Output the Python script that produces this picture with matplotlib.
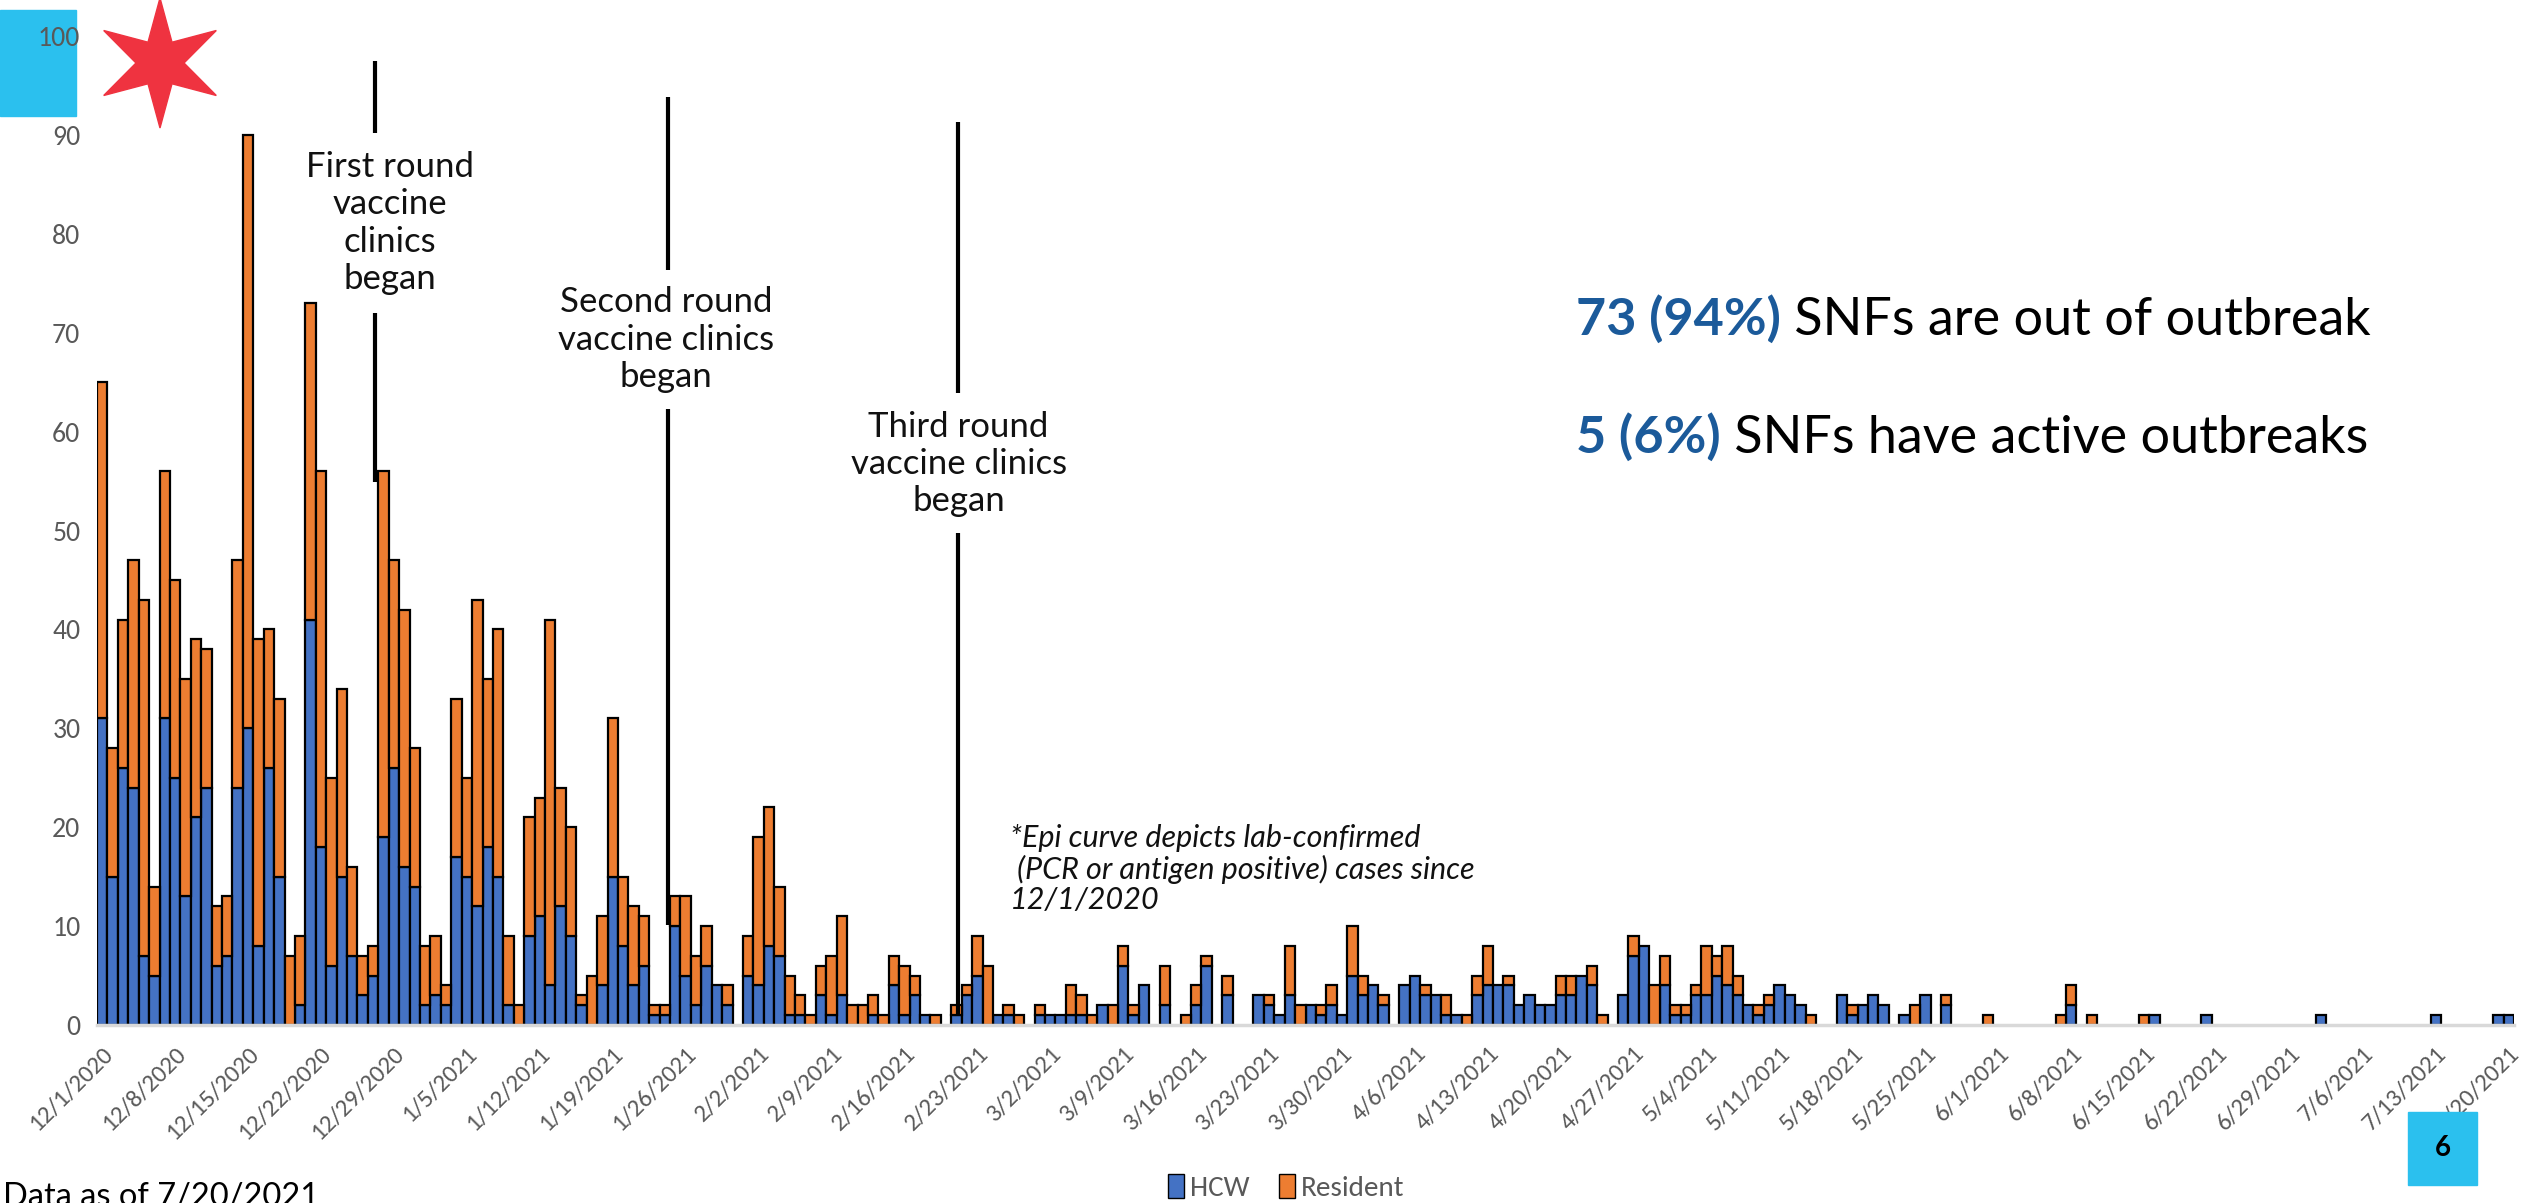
import matplotlib
matplotlib.use("Agg")
import matplotlib.pyplot as plt
from matplotlib.patches import Patch, Rectangle, Polygon
import numpy as np
import pandas as pd

# daily cases since 12/1/2020, one row per week
hcw = [
    31, 15, 26, 24, 7, 5, 31,
    25, 13, 21, 24, 6, 7, 24,
    30, 8, 26, 15, 0, 2, 41,
    18, 6, 15, 7, 3, 5, 19,
    26, 16, 14, 2, 3, 2, 17,
    15, 12, 18, 15, 2, 0, 9,
    11, 4, 12, 9, 2, 0, 4,
    15, 8, 4, 6, 1, 1, 10,
    5, 2, 6, 4, 2, 0, 5,
    4, 8, 7, 1, 1, 0, 3,
    1, 3, 0, 0, 1, 0, 4,
    1, 3, 1, 0, 0, 1, 3,
    5, 0, 1, 1, 0, 0, 1,
    1, 1, 1, 1, 0, 2, 0,
    6, 1, 4, 0, 2, 0, 0,
    2, 6, 0, 3, 0, 0, 3,
    2, 1, 3, 0, 2, 1, 2,
    1, 5, 3, 4, 2, 0, 4,
    5, 3, 3, 1, 1, 0, 3,
    4, 4, 4, 2, 3, 2, 2,
    3, 3, 5, 4, 0, 0, 3,
    7, 8, 0, 4, 1, 1, 3,
    3, 5, 4, 3, 2, 1, 2,
    4, 3, 2, 0, 0, 0, 3,
    1, 2, 3, 2, 0, 1, 0,
    3, 0, 2, 0, 0, 0, 0,
    0, 0, 0, 0, 0, 0, 0,
    2, 0, 0, 0, 0, 0, 0,
    0, 1, 0, 0, 0, 0, 1,
    0, 0, 0, 0, 0, 0, 0,
    0, 0, 0, 1, 0, 0, 0,
    0, 0, 0, 0, 0, 0, 0,
    1, 0, 0, 0, 0, 0, 1,
    1,
]
resident = [
    34, 13, 15, 23, 36, 9, 25,
    20, 22, 18, 14, 6, 6, 23,
    60, 31, 14, 18, 7, 7, 32,
    38, 19, 19, 9, 4, 3, 37,
    21, 26, 14, 6, 6, 2, 16,
    10, 31, 17, 25, 7, 2, 12,
    12, 37, 12, 11, 1, 5, 7,
    16, 7, 8, 5, 1, 1, 3,
    8, 5, 4, 0, 2, 0, 4,
    15, 14, 7, 4, 2, 1, 3,
    6, 8, 2, 2, 2, 1, 3,
    5, 2, 0, 1, 0, 1, 1,
    4, 6, 0, 1, 1, 0, 1,
    0, 0, 3, 2, 1, 0, 2,
    2, 1, 0, 0, 4, 0, 1,
    2, 1, 0, 2, 0, 0, 0,
    1, 0, 5, 2, 0, 1, 2,
    0, 5, 2, 0, 1, 0, 0,
    0, 1, 0, 2, 0, 1, 2,
    4, 0, 1, 0, 0, 0, 0,
    2, 2, 0, 2, 1, 0, 0,
    2, 0, 4, 3, 1, 1, 1,
    5, 2, 4, 2, 0, 1, 1,
    0, 0, 0, 1, 0, 0, 0,
    1, 0, 0, 0, 0, 0, 2,
    0, 0, 1, 0, 0, 0, 1,
    0, 0, 0, 0, 0, 0, 1,
    2, 0, 1, 0, 0, 0, 0,
    1, 0, 0, 0, 0, 0, 0,
    0, 0, 0, 0, 0, 0, 0,
    0, 0, 0, 0, 0, 0, 0,
    0, 0, 0, 0, 0, 0, 0,
    0, 0, 0, 0, 0, 0, 0,
    0,
]
dates = pd.date_range("2020-12-01", "2021-07-20")

# vaccine clinic markers (days since 12/1/2020)
clinic_days = [26.2, 54.3, 82.1]
clinic_text = ["First round\nvaccine\nclinics\nbegan",
               "Second round\nvaccine clinics\nbegan",
               "Third round\nvaccine clinics\nbegan"]

blue = "#4472C4"
orange = "#ED7D31"
gray = "#595959"
tick_font = ["Carlito", "Liberation Sans", "DejaVu Sans"]

plt.rcParams["font.family"] = ["Lato", "DejaVu Sans"]

fig = plt.figure(figsize=(25.34, 12.03), dpi=100, facecolor="white")
ax = fig.add_axes([0.0383, 0.148, 0.9538, 0.822])

x = np.arange(len(dates))
h = np.array(hcw)
r = np.array(resident)
mh = h > 0
mr = r > 0
ax.bar(x[mh], h[mh], width=1.0, color=blue, edgecolor="black", linewidth=1.6, zorder=2)
ax.bar(x[mr], r[mr], bottom=h[mr], width=1.0, color=orange, edgecolor="black", linewidth=1.6, zorder=2)

ax.set_xlim(-0.5, len(dates) - 0.5)
ax.set_ylim(0, 100)
ax.set_yticks(range(0, 101, 10))
ax.set_xticks(x[::7])
ax.set_xticklabels([f"{d.month}/{d.day}/{d.year}" for d in dates[::7]],
                   rotation=45, ha="right", va="top", rotation_mode="anchor")
ax.tick_params(axis="both", length=0, labelcolor=gray)
ax.tick_params(axis="x", pad=13, labelsize=18)
ax.tick_params(axis="y", pad=12, labelsize=20)
for lab in ax.get_xticklabels() + ax.get_yticklabels():
    lab.set_family(tick_font)
for s in ["top", "right", "left"]:
    ax.spines[s].set_visible(False)
ax.spines["bottom"].set_color("#D9D9D9")
ax.spines["bottom"].set_linewidth(2.5)

# vertical clinic lines, broken around their labels
segments = [[(97.5, 90.2), (72.0, 54.9)],
            [(93.8, 76.3), (62.3, 10.1)],
            [(91.3, 63.9), (49.7, 1.0)]]
text_pos = [(27.6, 81.1), (54.1, 69.3), (82.2, 56.7)]
for day, segs, (tx, ty), txt in zip(clinic_days, segments, text_pos, clinic_text):
    for y0, y1 in segs:
        ax.plot([day, day], [y0, y1], color="black", lw=3, solid_capstyle="butt", zorder=4)
    ax.text(tx, ty, txt, ha="center", va="center", fontsize=25, linespacing=1.2,
            color="#111111", zorder=5)

ax.text(87.1, 20.3, "*Epi curve depicts lab-confirmed\n (PCR or antigen positive) cases since\n12/1/2020",
        ha="left", va="top", fontsize=22, style="italic", linespacing=1.1, color="#111111")

# outbreak summary
t1 = fig.text(0.622, 0.714, "73 (94%)", fontsize=37.5, fontweight="bold", color="#1B5A9A", va="bottom")
t2 = fig.text(0.622, 0.616, "5 (6%)", fontsize=37.5, fontweight="bold", color="#1B5A9A", va="bottom")
ax.annotate(" SNFs are out of outbreak", xy=(1, 0), xycoords=t1, va="bottom", ha="left",
            fontsize=37.5, color="black", annotation_clip=False)
ax.annotate(" SNFs have active outbreaks", xy=(1, 0), xycoords=t2, va="bottom", ha="left",
            fontsize=37.5, color="black", annotation_clip=False)

# legend
handles = [Patch(facecolor=blue, edgecolor="black", label="HCW"),
           Patch(facecolor=orange, edgecolor="black", label="Resident")]
leg = fig.legend(handles=handles, loc="center", bbox_to_anchor=(0.5075, 0.013), ncol=2,
                 frameon=False, fontsize=21, handlelength=0.55, handleheight=0.9,
                 handletextpad=0.2, columnspacing=1.0)
for t in leg.get_texts():
    t.set_color(gray)
    t.set_family(tick_font)

fig.text(0.001, 0.0175, "Data as of 7/20/2021", fontsize=23.5, va="top", ha="left", color="black")

# slide decorations
fig.patches.append(Rectangle((0, 0.9036), 0.030, 0.0881, transform=fig.transFigure,
                             color="#2BC0EE", zorder=-1))
W, H = 2534, 1203
cx, cy, R, rr = 160, 63, 65, 24
ang = np.deg2rad(90 + 30 * np.arange(12))
rad = np.where(np.arange(12) % 2 == 0, R, rr)
pts = np.column_stack([(cx + rad * np.cos(ang)) / W, 1 - (cy - rad * np.sin(ang)) / H])
fig.patches.append(Polygon(pts, closed=True, transform=fig.transFigure, color="#EF3340", zorder=3))
fig.patches.append(Rectangle((2408 / W, 1 - 1185 / H), 69 / W, 73 / H, transform=fig.transFigure,
                             color="#2BC0EE", zorder=3))
fig.text((2408 + 34.5) / W, 1 - 1148 / H, "6", fontsize=20, fontweight="bold", ha="center",
         va="center", color="black", zorder=4)

fig.savefig("out.png", dpi=100, facecolor="white")
